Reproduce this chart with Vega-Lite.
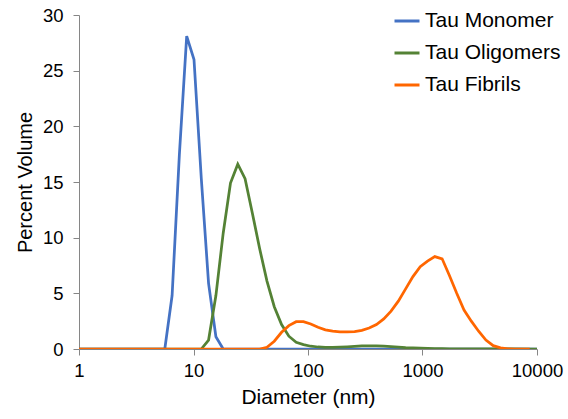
{
  "$schema": "https://vega.github.io/schema/vega-lite/v6.json",
  "width": 458,
  "height": 334,
  "autosize": {"type": "none"},
  "padding": {"left": 79, "top": 15, "right": 31, "bottom": 70},
  "background": "white",
  "config": {"view": {"stroke": null}, "font": "Liberation Sans"},
  "data": {"values": [
    {"s": "Tau Monomer", "d": 0.9649, "v": 0},
    {"s": "Tau Monomer", "d": 5.615, "v": 0},
    {"s": "Tau Monomer", "d": 6.503, "v": 4.8},
    {"s": "Tau Monomer", "d": 7.531, "v": 17.5},
    {"s": "Tau Monomer", "d": 8.721, "v": 28.1},
    {"s": "Tau Monomer", "d": 10.1, "v": 26.0},
    {"s": "Tau Monomer", "d": 11.7, "v": 15.3},
    {"s": "Tau Monomer", "d": 13.54, "v": 5.9},
    {"s": "Tau Monomer", "d": 15.69, "v": 1.1},
    {"s": "Tau Monomer", "d": 18.17, "v": 0},
    {"s": "Tau Monomer", "d": 10000, "v": 0},

    {"s": "Tau Oligomers", "d": 0.9649, "v": 0},
    {"s": "Tau Oligomers", "d": 11.7, "v": 0},
    {"s": "Tau Oligomers", "d": 13.54, "v": 0.8},
    {"s": "Tau Oligomers", "d": 15.69, "v": 4.8},
    {"s": "Tau Oligomers", "d": 18.17, "v": 10.4},
    {"s": "Tau Oligomers", "d": 21.04, "v": 14.9},
    {"s": "Tau Oligomers", "d": 24.36, "v": 16.6},
    {"s": "Tau Oligomers", "d": 28.21, "v": 15.3},
    {"s": "Tau Oligomers", "d": 32.67, "v": 12.2},
    {"s": "Tau Oligomers", "d": 37.84, "v": 9.0},
    {"s": "Tau Oligomers", "d": 43.82, "v": 6.1},
    {"s": "Tau Oligomers", "d": 50.75, "v": 3.8},
    {"s": "Tau Oligomers", "d": 58.77, "v": 2.2},
    {"s": "Tau Oligomers", "d": 68.06, "v": 1.15},
    {"s": "Tau Oligomers", "d": 78.82, "v": 0.6},
    {"s": "Tau Oligomers", "d": 91.28, "v": 0.4},
    {"s": "Tau Oligomers", "d": 105.7, "v": 0.25},
    {"s": "Tau Oligomers", "d": 122.4, "v": 0.18},
    {"s": "Tau Oligomers", "d": 141.8, "v": 0.15},
    {"s": "Tau Oligomers", "d": 164.2, "v": 0.15},
    {"s": "Tau Oligomers", "d": 190.1, "v": 0.17},
    {"s": "Tau Oligomers", "d": 220.2, "v": 0.2},
    {"s": "Tau Oligomers", "d": 255.0, "v": 0.24},
    {"s": "Tau Oligomers", "d": 295.3, "v": 0.27},
    {"s": "Tau Oligomers", "d": 342.0, "v": 0.29},
    {"s": "Tau Oligomers", "d": 396.1, "v": 0.29},
    {"s": "Tau Oligomers", "d": 458.7, "v": 0.26},
    {"s": "Tau Oligomers", "d": 531.2, "v": 0.22},
    {"s": "Tau Oligomers", "d": 615.1, "v": 0.17},
    {"s": "Tau Oligomers", "d": 712.4, "v": 0.12},
    {"s": "Tau Oligomers", "d": 825.0, "v": 0.09},
    {"s": "Tau Oligomers", "d": 955.4, "v": 0.07},
    {"s": "Tau Oligomers", "d": 1106, "v": 0.05},
    {"s": "Tau Oligomers", "d": 1281, "v": 0.04},
    {"s": "Tau Oligomers", "d": 1484, "v": 0.03},
    {"s": "Tau Oligomers", "d": 1718, "v": 0.02},
    {"s": "Tau Oligomers", "d": 1990, "v": 0.02},
    {"s": "Tau Oligomers", "d": 2305, "v": 0.01},
    {"s": "Tau Oligomers", "d": 10000, "v": 0},

    {"s": "Tau Fibrils", "d": 0.9649, "v": 0},
    {"s": "Tau Fibrils", "d": 37.84, "v": 0},
    {"s": "Tau Fibrils", "d": 43.82, "v": 0.15},
    {"s": "Tau Fibrils", "d": 50.75, "v": 0.7},
    {"s": "Tau Fibrils", "d": 58.77, "v": 1.5},
    {"s": "Tau Fibrils", "d": 68.06, "v": 2.1},
    {"s": "Tau Fibrils", "d": 78.82, "v": 2.45},
    {"s": "Tau Fibrils", "d": 91.28, "v": 2.45},
    {"s": "Tau Fibrils", "d": 105.7, "v": 2.25},
    {"s": "Tau Fibrils", "d": 122.4, "v": 1.95},
    {"s": "Tau Fibrils", "d": 141.8, "v": 1.72},
    {"s": "Tau Fibrils", "d": 164.2, "v": 1.6},
    {"s": "Tau Fibrils", "d": 190.1, "v": 1.54},
    {"s": "Tau Fibrils", "d": 220.2, "v": 1.53},
    {"s": "Tau Fibrils", "d": 255.0, "v": 1.57},
    {"s": "Tau Fibrils", "d": 295.3, "v": 1.68},
    {"s": "Tau Fibrils", "d": 342.0, "v": 1.88},
    {"s": "Tau Fibrils", "d": 396.1, "v": 2.2},
    {"s": "Tau Fibrils", "d": 458.7, "v": 2.7},
    {"s": "Tau Fibrils", "d": 531.2, "v": 3.4},
    {"s": "Tau Fibrils", "d": 615.1, "v": 4.3},
    {"s": "Tau Fibrils", "d": 712.4, "v": 5.4},
    {"s": "Tau Fibrils", "d": 825.0, "v": 6.5},
    {"s": "Tau Fibrils", "d": 955.4, "v": 7.4},
    {"s": "Tau Fibrils", "d": 1106, "v": 7.9},
    {"s": "Tau Fibrils", "d": 1281, "v": 8.3},
    {"s": "Tau Fibrils", "d": 1484, "v": 8.1},
    {"s": "Tau Fibrils", "d": 1718, "v": 6.6},
    {"s": "Tau Fibrils", "d": 1990, "v": 5.0},
    {"s": "Tau Fibrils", "d": 2305, "v": 3.5},
    {"s": "Tau Fibrils", "d": 2669, "v": 2.5},
    {"s": "Tau Fibrils", "d": 3091, "v": 1.6},
    {"s": "Tau Fibrils", "d": 3580, "v": 0.8},
    {"s": "Tau Fibrils", "d": 4145, "v": 0.3},
    {"s": "Tau Fibrils", "d": 4801, "v": 0.1},
    {"s": "Tau Fibrils", "d": 5560, "v": 0.02},
    {"s": "Tau Fibrils", "d": 6439, "v": 0},
    {"s": "Tau Fibrils", "d": 8635, "v": 0}
  ]},
  "encoding": {
    "x": {
      "field": "d", "type": "quantitative",
      "scale": {"type": "log", "domain": [1, 10000]},
      "axis": {
        "values": [1, 10, 100, 1000, 10000], "format": "d",
        "grid": false, "domainColor": "#868686", "tickColor": "#868686",
        "tickSize": 6, "labelFontSize": 18.5, "labelColor": "#000000",
        "labelPadding": 6, "labelFlush": false,
        "title": "Diameter (nm)", "titleFontSize": 21, "titleFontWeight": "normal",
        "titleColor": "#000000", "titlePadding": 7
      }
    },
    "y": {
      "field": "v", "type": "quantitative",
      "scale": {"domain": [0, 30], "nice": false},
      "axis": {
        "values": [0, 5, 10, 15, 20, 25, 30],
        "grid": false, "domainColor": "#868686", "tickColor": "#868686",
        "tickSize": 6, "labelFontSize": 18.5, "labelColor": "#000000",
        "labelPadding": 10,
        "title": "Percent Volume", "titleFontSize": 20, "titleFontWeight": "normal",
        "titleColor": "#000000", "titlePadding": 7
      }
    },
    "color": {
      "field": "s", "type": "nominal",
      "scale": {"domain": ["Tau Monomer", "Tau Oligomers", "Tau Fibrils"], "range": ["#4472C4", "#548235", "#FF6600"]},
      "legend": {
        "orient": "none", "legendX": 314, "legendY": -8, "title": null,
        "symbolType": "stroke", "symbolStrokeWidth": 3, "symbolSize": 625,
        "labelFontSize": 21, "labelColor": "#000000", "rowPadding": 8,
        "labelOffset": 4, "padding": 0
      }
    }
  },
  "layer": [
    {"transform": [{"filter": "datum.s == 'Tau Monomer'"}], "mark": {"type": "line", "strokeWidth": 2.75, "clip": true}},
    {"transform": [{"filter": "datum.s == 'Tau Oligomers'"}], "mark": {"type": "line", "strokeWidth": 2.75, "clip": true}},
    {"transform": [{"filter": "datum.s == 'Tau Fibrils'"}], "mark": {"type": "line", "strokeWidth": 2.75, "clip": true}}
  ]
}
